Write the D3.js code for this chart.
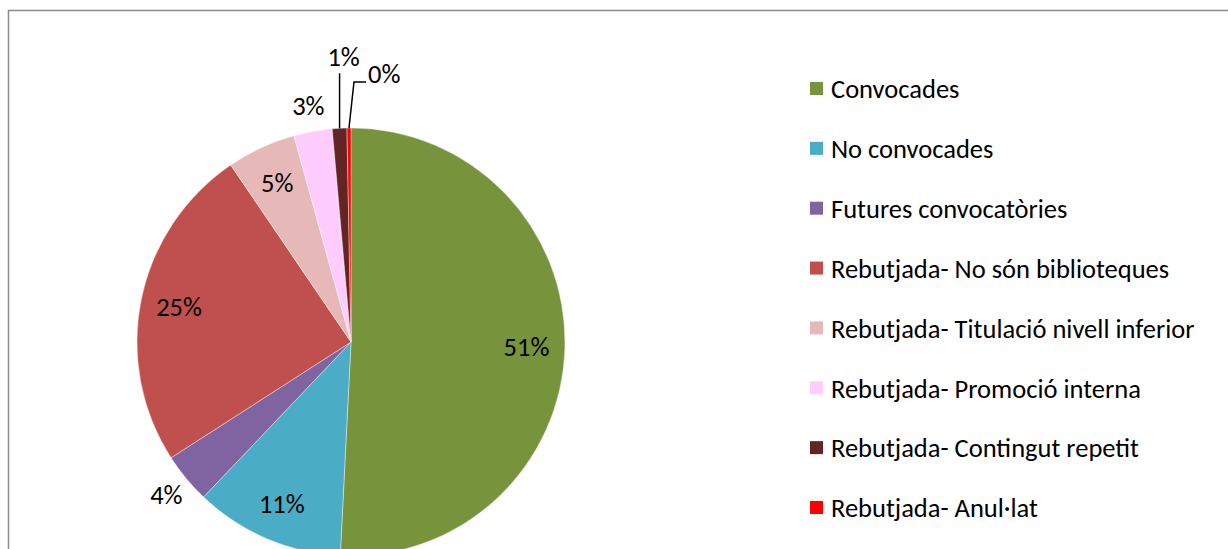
<!DOCTYPE html>
<html>
<head>
<meta charset="utf-8">
<script src="https://cdn.jsdelivr.net/npm/d3@7"></script>
<style>
  body { margin: 0; background: #fff; }
  svg { display: block; font-family: Carlito, Lato, "Open Sans", sans-serif; }
</style>
</head>
<body>
<div class="content"></div>
<script>
const categories = [
  'Convocades',
  'No convocades',
  'Futures convocatòries',
  'Rebutjada- No són biblioteques',
  'Rebutjada- Titulació nivell inferior',
  'Rebutjada- Promoció interna',
  'Rebutjada- Contingut repetit',
  'Rebutjada- Anul·lat'
];
const shares = [50.8, 11.3, 3.8, 24.6, 5.2, 2.9, 1.1, 0.3];
const labels = ['51%', '11%', '4%', '25%', '5%', '3%', '1%', '0%'];
const colors = ['#77933C', '#4BACC6', '#8064A2', '#C0504D', '#E6B9B8', '#FFCCFF', '#632523', '#FF0000'];

const width = 1228, height = 549;
const cx = 351, cy = 342, radius = 214;
const fontSize = 26.5;

const svg = d3.select('div.content')
              .append('svg')
              .attr('width', width)
              .attr('height', height);

// chart frame (right and bottom edges fall outside the picture)
svg.append('path')
   .attr('d', `M8.5,${height} V10.5 H${width}`)
   .attr('fill', 'none')
   .attr('stroke', '#8c8c8c')
   .attr('stroke-width', 1.5);

const pie = d3.pie().sort(null).value((d) => d.v);
const arcs = pie(shares.map((v, i) => ({ v, i })));
const arc = d3.arc().innerRadius(0).outerRadius(radius);

const g = svg.append('g').attr('transform', `translate(${cx},${cy})`);

g.selectAll('path.slice')
 .data(arcs)
 .enter()
 .append('path')
 .attr('class', 'slice')
 .attr('d', arc)
 .attr('fill', (d) => colors[d.data.i])
 .attr('stroke', '#fff')
 .attr('stroke-width', 0.4);

const polar = (a, r) => [r * Math.sin(a), -r * Math.cos(a)];
const midAngle = (d) => (d.startAngle + d.endAngle) / 2;

arcs.forEach((d) => {
  const a = midAngle(d);
  const v = d.data.v;
  const txt = labels[d.data.i];
  if (v >= 5) {
    const [x, y] = polar(a, radius * 0.82);
    g.append('text').attr('x', x).attr('y', y).attr('dy', '0.35em')
     .attr('text-anchor', 'middle').attr('font-size', fontSize).text(txt);
  } else if (v >= 2) {
    const [x, y] = polar(a, radius * 1.12);
    g.append('text').attr('x', x).attr('y', y).attr('dy', '0.35em')
     .attr('text-anchor', 'middle').attr('font-size', fontSize).text(txt);
  } else if (v >= 1) {
    const [x0, y0] = polar(a, radius);
    const yTop = -radius * 1.256;
    g.append('path').attr('d', `M${x0},${y0} V${yTop}`)
     .attr('stroke', '#000').attr('stroke-width', 1.5).attr('fill', 'none');
    g.append('text').attr('x', x0 + 4).attr('y', yTop - 17).attr('dy', '0.35em')
     .attr('text-anchor', 'middle').attr('font-size', fontSize).text(txt);
  } else {
    const [x0, y0] = polar(a, radius);
    const xe = x0 + 5, ye = -radius * 1.215;
    g.append('path').attr('d', `M${x0},${y0} L${xe},${ye} H${xe + 12}`)
     .attr('stroke', '#000').attr('stroke-width', 1.5).attr('fill', 'none');
    g.append('text').attr('x', xe + 14).attr('y', ye - 8).attr('dy', '0.35em')
     .attr('text-anchor', 'start').attr('font-size', fontSize).text(txt);
  }
});

// legend
const legendY = d3.scalePoint().domain(categories).range([89, 508]);
const legend = svg.append('g')
                  .selectAll('g.item')
                  .data(categories)
                  .enter()
                  .append('g')
                  .attr('transform', (d) => `translate(810,${legendY(d)})`);

legend.append('rect')
      .attr('x', 0).attr('y', -7)
      .attr('width', 13).attr('height', 13)
      .attr('fill', (d, i) => colors[i]);

legend.append('text')
      .attr('x', 21).attr('y', 0).attr('dy', '0.35em')
      .attr('font-size', fontSize)
      .text((d) => d);
</script>
</body>
</html>
